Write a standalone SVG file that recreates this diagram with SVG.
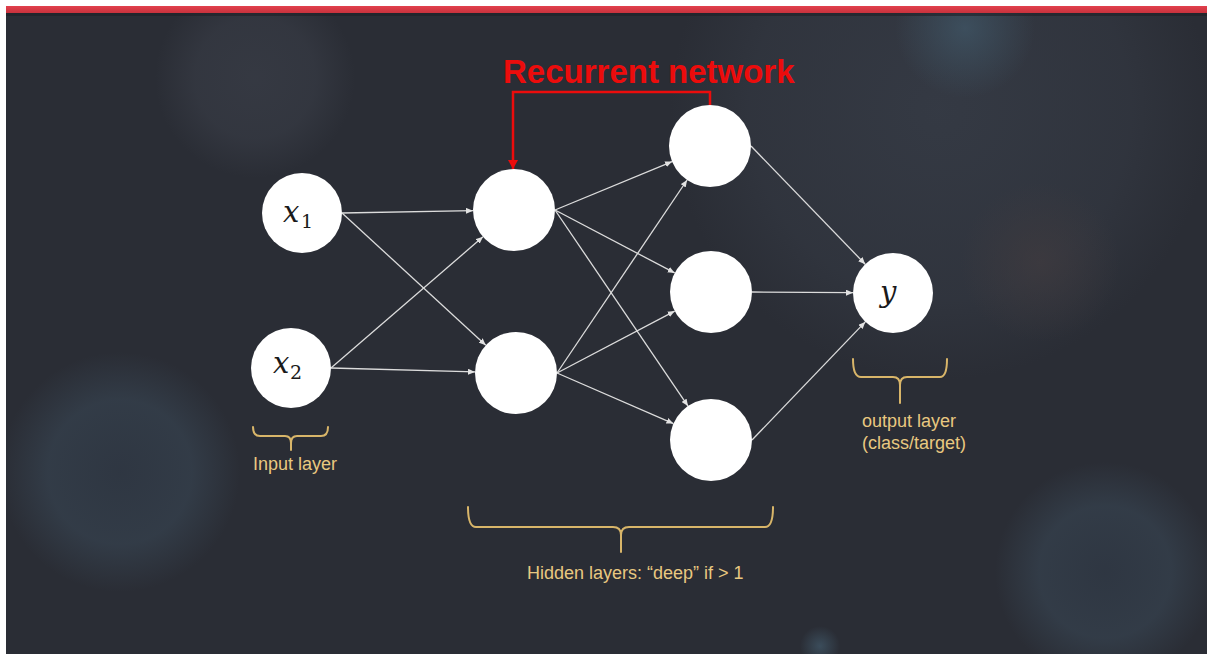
<svg xmlns="http://www.w3.org/2000/svg" width="1214" height="657" viewBox="0 0 1214 657">
  <defs>
    <clipPath id="panel">
      <rect x="6" y="13" width="1201" height="641"/>
    </clipPath>
    <radialGradient id="glowGrey">
      <stop offset="0" stop-color="#3a3e48" stop-opacity="0.7"/>
      <stop offset="0.6" stop-color="#3a3e48" stop-opacity="0.55"/>
      <stop offset="1" stop-color="#3a3e48" stop-opacity="0"/>
    </radialGradient>
    <radialGradient id="glowBlue">
      <stop offset="0" stop-color="#323d4b" stop-opacity="0.6"/>
      <stop offset="0.6" stop-color="#36424f" stop-opacity="0.7"/>
      <stop offset="1" stop-color="#36424f" stop-opacity="0"/>
    </radialGradient>
    <radialGradient id="glowBright">
      <stop offset="0" stop-color="#3f5464" stop-opacity="0.8"/>
      <stop offset="1" stop-color="#3f5464" stop-opacity="0"/>
    </radialGradient>
    <radialGradient id="glowWide">
      <stop offset="0" stop-color="#393f4a" stop-opacity="0.7"/>
      <stop offset="0.7" stop-color="#393f4a" stop-opacity="0.4"/>
      <stop offset="1" stop-color="#393f4a" stop-opacity="0"/>
    </radialGradient>
    <radialGradient id="glowWarm">
      <stop offset="0" stop-color="#403b3f" stop-opacity="0.7"/>
      <stop offset="1" stop-color="#403b3f" stop-opacity="0"/>
    </radialGradient>
    <linearGradient id="bar" x1="0" y1="0" x2="0" y2="1">
      <stop offset="0" stop-color="#e2404c"/>
      <stop offset="1" stop-color="#c8323d"/>
    </linearGradient>
    <marker id="arrow" markerUnits="userSpaceOnUse" markerWidth="7" markerHeight="6" refX="7" refY="3" orient="auto">
      <path d="M0,0 L7,3 L0,6 Z" fill="#e2e2e2"/>
    </marker>
    <marker id="arrowRed" markerUnits="userSpaceOnUse" markerWidth="9" markerHeight="10" refX="9" refY="5" orient="auto">
      <path d="M0,0 L9,5 L0,10 Z" fill="#ec0c0c"/>
    </marker>
  </defs>

  <style>
    .node { fill: #ffffff; }
    .edge { stroke: #dcdcdc; stroke-width: 1.3; fill: none; marker-end: url(#arrow); }
    .loop { stroke: #ec0c0c; stroke-width: 2.5; fill: none; marker-end: url(#arrowRed); }
    .brace { stroke: #d8b569; stroke-width: 2; fill: none; stroke-linecap: round; stroke-linejoin: round; }
    .label { font-family: "Liberation Sans", Arial, sans-serif; font-size: 18px; fill: #e8c880; }
    .math { font-family: "DejaVu Serif", "Liberation Serif", serif; font-style: italic; font-size: 29px; fill: #1a1a1a; }
    .sub { font-family: "DejaVu Serif", "Liberation Serif", serif; font-size: 19px; fill: #1a1a1a; }
    .title { font-family: "Liberation Sans", Arial, sans-serif; font-weight: bold; font-size: 33px; fill: #ec0c0c; }
  </style>

  <!-- page and backdrop -->
  <rect x="0" y="0" width="1214" height="657" fill="#ffffff"/>
  <rect x="6" y="13" width="1201" height="641" fill="#2a2d35"/>
  <g id="backdrop" clip-path="url(#panel)">
    <circle cx="940" cy="110" r="270" fill="url(#glowWide)"/>
    <circle cx="255" cy="78" r="100" fill="url(#glowGrey)"/>
    <circle cx="965" cy="28" r="70" fill="url(#glowBright)"/>
    <circle cx="1040" cy="262" r="80" fill="url(#glowWarm)"/>
    <circle cx="120" cy="472" r="120" fill="url(#glowBlue)"/>
    <circle cx="1105" cy="572" r="110" fill="url(#glowBlue)"/>
    <circle cx="820" cy="646" r="20" fill="url(#glowBright)"/>
  </g>
  <rect x="6" y="6" width="1201" height="7" fill="url(#bar)"/>
  <rect x="6" y="13" width="1201" height="3" fill="#1e2027" opacity="0.6"/>

  <!-- title -->
  <text class="title" x="503" y="83">Recurrent network</text>

  <!-- connectors -->
  <g id="connectors">
    <line class="edge" x1="342" y1="213" x2="473" y2="210.7"/>
    <line class="edge" x1="342" y1="213" x2="485.8" y2="345.2"/>
    <line class="edge" x1="331" y1="368" x2="483" y2="236.8"/>
    <line class="edge" x1="331" y1="368" x2="475" y2="371.9"/>
    <line class="edge" x1="555" y1="210" x2="672.1" y2="161.6"/>
    <line class="edge" x1="555" y1="210" x2="674.7" y2="272.9"/>
    <line class="edge" x1="555" y1="210" x2="688" y2="406.1"/>
    <line class="edge" x1="557" y1="373" x2="687.1" y2="180"/>
    <line class="edge" x1="557" y1="373" x2="674.7" y2="311.1"/>
    <line class="edge" x1="557" y1="373" x2="673.4" y2="423.6"/>
    <line class="edge" x1="751" y1="146" x2="865.2" y2="264.2"/>
    <line class="edge" x1="752" y1="292" x2="853" y2="292.7"/>
    <line class="edge" x1="752" y1="440" x2="865.3" y2="321.9"/>
    <path class="loop" d="M710,105 V92 H513 V169"/>
  </g>

  <!-- input layer -->
  <g id="x1">
    <circle class="node" cx="302" cy="213" r="40"/>
    <text class="math" x="283" y="222">x</text>
    <text class="sub" x="301" y="228">1</text>
  </g>
  <g id="x2">
    <circle class="node" cx="291" cy="368" r="40"/>
    <text class="math" x="273" y="373">x</text>
    <text class="sub" x="290" y="379">2</text>
  </g>

  <!-- hidden layers -->
  <g id="h1a"><circle class="node" cx="514" cy="210" r="41"/></g>
  <g id="h1b"><circle class="node" cx="516" cy="373" r="41"/></g>
  <g id="h2a"><circle class="node" cx="710" cy="146" r="41"/></g>
  <g id="h2b"><circle class="node" cx="711" cy="292" r="41"/></g>
  <g id="h2c"><circle class="node" cx="711" cy="440" r="41"/></g>

  <!-- output layer -->
  <g id="y">
    <circle class="node" cx="893" cy="293" r="40"/>
    <text class="math" x="880" y="302">y</text>
  </g>

  <!-- layer annotations -->
  <g id="input-label">
    <path class="brace" d="M253,427 Q253,436 260,436 H285 Q291,436 291,443 V450 M291,443 Q291,436 297,436 H321 Q328,436 328,427"/>
    <text class="label" x="253" y="470">Input layer</text>
  </g>
  <g id="hidden-label">
    <path class="brace" d="M468,507 Q468,527 476,527 H613 Q621,527 621,535 V552 M621,535 Q621,527 629,527 H765 Q773,527 773,507"/>
    <text class="label" x="527" y="579">Hidden layers: “deep” if &gt; 1</text>
  </g>
  <g id="output-label">
    <path class="brace" d="M853,359 Q853,377 861,377 H893 Q900,377 900,385 V403 M900,385 Q900,377 907,377 H940 Q947,377 947,359"/>
    <text class="label" x="862" y="427">output layer</text>
    <text class="label" x="862" y="449">(class/target)</text>
  </g>
</svg>
